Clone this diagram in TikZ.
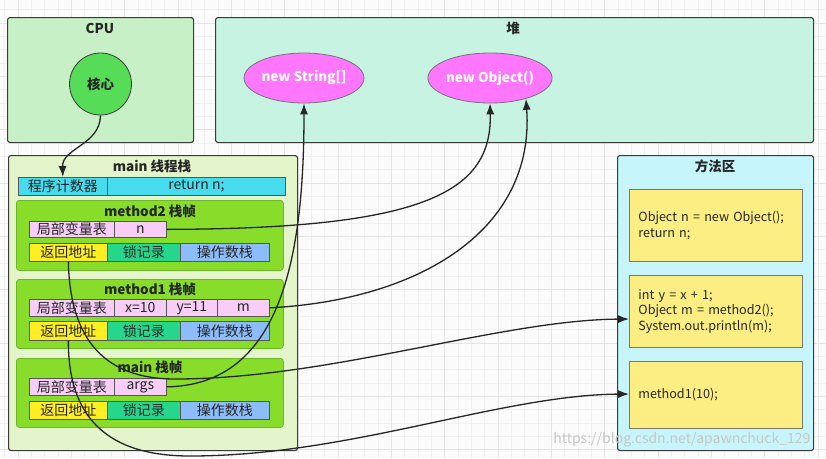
\documentclass[tikz,border=0pt]{standalone}
\usepackage{fontspec}
\setmainfont{Noto Sans CJK SC}
\usetikzlibrary{arrows.meta,shapes.geometric}
\definecolor{bgc}{HTML}{FBFBFB}
\definecolor{gridminor}{HTML}{F0F0F0}
\definecolor{gridmajor}{HTML}{E4E4E4}
\definecolor{edge}{HTML}{3A3A3A}
\definecolor{cpuc}{HTML}{C8F0C6}
\definecolor{heapc}{HTML}{C6F3E2}
\definecolor{corec}{HTML}{57DC57}
\definecolor{objc}{HTML}{FF77FF}
\definecolor{stackc}{HTML}{E4F5CC}
\definecolor{framec}{HTML}{88DD2A}
\definecolor{framedge}{HTML}{6FB52A}
\definecolor{pcc}{HTML}{46DCEE}
\definecolor{pinkc}{HTML}{F8CEF8}
\definecolor{yelc}{HTML}{FFEE22}
\definecolor{lockc}{HTML}{25D68C}
\definecolor{opc}{HTML}{8CBDFA}
\definecolor{methc}{HTML}{C6F6FC}
\definecolor{codec}{HTML}{FCEE82}
\definecolor{codeedge}{HTML}{7A7A6A}
\definecolor{celledge}{HTML}{555555}
\tikzset{
  container/.style={draw=edge, line width=1.1pt, rounded corners=2.5pt, inner sep=0pt, anchor=north west},
  frame/.style={draw=framedge, line width=0.8pt, fill=framec, rounded corners=3pt, inner sep=0pt, anchor=north west},
  cell/.style={draw=celledge, line width=0.7pt, inner sep=0pt, anchor=north west, font=\fontsize{14}{14}\selectfont, text=black!85},
  title/.style={font=\bfseries\fontsize{13.5}{13.5}\selectfont, text=black!85},
  codebox/.style={draw=codeedge, line width=0.8pt, fill=codec, anchor=north west, minimum width=173pt, minimum height=72pt, text width=155pt, inner xsep=9pt, align=left, font=\fontsize{12.6}{15.5}\selectfont, text=black!85},
  conn/.style={draw=black!85, line width=1.3pt},
  arr/.style={conn, -{Latex[length=11pt,width=8pt]}},
  blob/.style={ellipse, draw=edge!70, line width=0.8pt, fill=objc, minimum width=104pt, minimum height=50pt, inner sep=0pt, text=white, font=\bfseries\fontsize{13.5}{13.5}\selectfont}
}
\newcommand\cellat[7]{\node[cell, fill=#6, minimum width={#4pt-#2pt}, minimum height={#5pt-#3pt}] (#1) at (#2,#3) {#7};}
\begin{document}
\begin{tikzpicture}[x=1pt,y=-1pt]
\useasboundingbox (0,0) rectangle (826,458);
\fill[bgc] (0,0) rectangle (826,458);
\foreach \i in {0,...,62} \draw[gridminor, line width=0.6pt] ({4.67+13.333*\i},0) -- ({4.67+13.333*\i},458);
\foreach \i in {0,...,34} \draw[gridminor, line width=0.6pt] (0,{9.67+13.333*\i}) -- (826,{9.67+13.333*\i});
\foreach \i in {0,...,15} \draw[gridmajor, line width=0.7pt] ({18+53.333*\i},0) -- ({18+53.333*\i},458);
\foreach \i in {0,...,8} \draw[gridmajor, line width=0.7pt] (0,{23+53.333*\i}) -- (826,{23+53.333*\i});

% CPU
\node[container, fill=cpuc, minimum width=186pt, minimum height=125pt] (cpu) at (7,17) {};
\node[title] (cputitle) at (100,28) {CPU};
\node[circle, draw=edge, line width=0.8pt, fill=corec, minimum size=62pt, inner sep=0pt, font=\bfseries\fontsize{13.5}{13.5}\selectfont, text=black!85] (core) at (100.5,84) {核心};

% Heap
\node[container, fill=heapc, minimum width=598pt, minimum height=125pt] (heap) at (215,17) {};
\node[title] (heaptitle) at (513,28) {堆};
\node[blob] (str) at (304,78) {new String[]};
\node[blob, minimum width=106pt] (obj) at (490,78) {new Object()};

% Thread stack
\node[container, fill=stackc, minimum width=289pt, minimum height=295pt] (stack) at (8,155) {};
\node[title] (stacktitle) at (152,166) {main 线程栈};
\cellat{pc}{18}{177}{107}{195}{pcc}{程序计数器}
\cellat{pcv}{107}{177}{285}{195}{pcc}{return n;}

% method2 frame
\node[frame, minimum width=267pt, minimum height=70pt] (m2) at (16,200) {};
\node[title] (m2title) at (150,211) {method2 栈帧};
\cellat{m2lv}{29}{221}{114}{237}{pinkc}{局部变量表}
\cellat{m2n}{114}{221}{166}{237}{pinkc}{n}
\cellat{m2ra}{29}{243}{107}{261}{yelc}{返回地址}
\cellat{m2lk}{107}{243}{180}{261}{lockc}{锁记录}
\cellat{m2op}{180}{243}{269}{261}{opc}{操作数栈}

% method1 frame
\node[frame, minimum width=267pt, minimum height=69pt] (m1) at (16,279) {};
\node[title] (m1title) at (150,289) {method1 栈帧};
\cellat{m1lv}{29}{299}{114}{316}{pinkc}{局部变量表}
\cellat{m1x}{114}{299}{166}{316}{pinkc}{x=10}
\cellat{m1y}{166}{299}{217}{316}{pinkc}{y=11}
\cellat{m1m}{217}{299}{269}{316}{pinkc}{m}
\cellat{m1ra}{29}{321}{107}{340}{yelc}{返回地址}
\cellat{m1lk}{107}{321}{180}{340}{lockc}{锁记录}
\cellat{m1op}{180}{321}{269}{340}{opc}{操作数栈}

% main frame
\node[frame, minimum width=267pt, minimum height=69pt] (mf) at (16,358) {};
\node[title] (mftitle) at (150,367) {main 栈帧};
\cellat{mflv}{29}{378}{114}{395}{pinkc}{局部变量表}
\cellat{mfargs}{114}{378}{166}{395}{pinkc}{args}
\cellat{mfra}{29}{401}{107}{419}{yelc}{返回地址}
\cellat{mflk}{107}{401}{180}{419}{lockc}{锁记录}
\cellat{mfop}{180}{401}{269}{419}{opc}{操作数栈}

% Method area
\node[container, fill=methc, minimum width=196pt, minimum height=295pt] (meth) at (617,155) {};
\node[title] (methtitle) at (715,166) {方法区};
\node[codebox] (code2) at (629,189) {Object n = new Object();\\return n;};
\node[codebox] (code1) at (629,275) {int y = x + 1;\\Object m = method2();\\System.out.println(m);};
\node[codebox, minimum height=67pt] (code0) at (629,361) {method1(10);};

\coordinate (c1in) at (629,319);
\coordinate (c0in) at (629,394);

% watermark
\node[font=\fontsize{14}{14}\selectfont, text=gray!45, anchor=east] (wm) at (814,440) {https://blog.csdn.net/apawnchuck\_129};

% connectors
\draw[arr] (core.south) .. controls (100,145) and (62,148) .. (pc.north);
\draw[arr] (m2n.east) .. controls (430,229) and (492,190) .. (obj.south);
\draw[arr] (m1m.east) .. controls (420,300) and (535,230) .. (obj.-30);
\draw[arr] (mfargs.east) .. controls (280,385) and (304,260) .. (str.south);
\draw[arr] (m2ra.south) .. controls (70,340) and (105,379) .. (175,379) .. controls (330,379) and (500,320) .. (c1in);
\draw[arr] (m1ra.south) .. controls (68,420) and (110,456) .. (190,456) .. controls (350,456) and (500,395) .. (c0in);
\end{tikzpicture}
\end{document}
